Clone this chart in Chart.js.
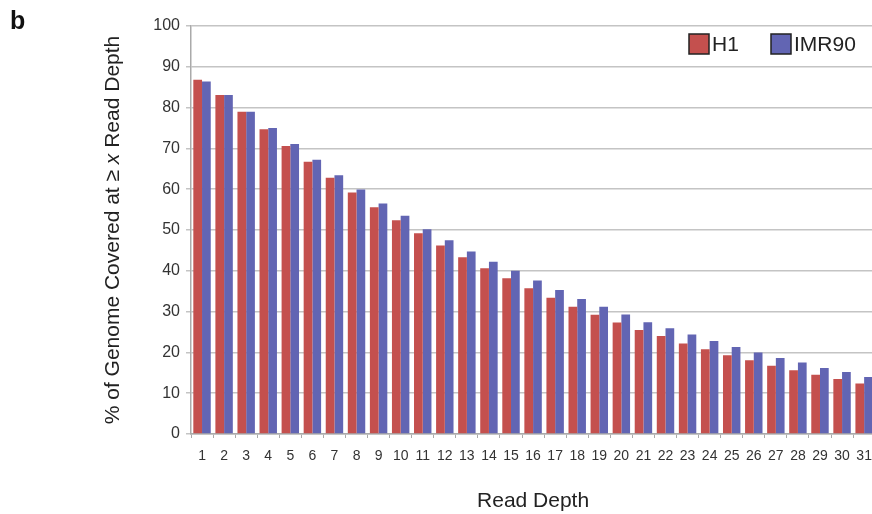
<!DOCTYPE html>
<html>
<head>
<meta charset="utf-8">
<script src="https://cdn.jsdelivr.net/npm/chart.js@4.4.1/dist/chart.umd.min.js"></script>
<style>
  html, body { margin: 0; padding: 0; background: #fff; overflow: hidden; }
  #wrap { position: relative; width: 872px; height: 514px; overflow: hidden; }
  #panel { position: absolute; left: 10px; top: 6px; font: bold 25px "Liberation Sans", Arial, sans-serif; color: #111; }
</style>
</head>
<body>
<div id="wrap">
  <canvas id="coverage-chart" width="882" height="514"></canvas>
  <div id="panel">b</div>
</div>
<script>
// read depth categories (x axis)
const readDepths = ['1', '2', '3', '4', '5', '6', '7', '8', '9', '10',
    '11', '12', '13', '14', '15', '16', '17', '18', '19', '20',
    '21', '22', '23', '24', '25', '26', '27', '28', '29', '30', '31'];

// % of genome covered at >= x read depth
const h1Coverage = [86.8, 83.1, 79.0, 74.7, 70.6, 66.7, 62.8, 59.2, 55.6, 52.4,
    49.2, 46.2, 43.3, 40.6, 38.2, 35.7, 33.4, 31.2, 29.2, 27.3,
    25.5, 24.0, 22.2, 20.8, 19.3, 18.1, 16.7, 15.6, 14.5, 13.5, 12.4];
const imr90Coverage = [86.4, 83.1, 79.0, 75.0, 71.1, 67.2, 63.4, 59.9, 56.5, 53.5,
    50.2, 47.5, 44.7, 42.2, 40.0, 37.6, 35.3, 33.1, 31.2, 29.3,
    27.4, 25.9, 24.4, 22.8, 21.3, 20.0, 18.6, 17.5, 16.2, 15.2, 14.0];

const yMin = 0;
const yMax = 100;
const yStep = 10;

const fontFamily = '"Liberation Sans", Arial, Helvetica, sans-serif';
const textColor = '#222';

// legend sits inside the plot, top right
const insideLegend = {
    id: 'insideLegend',
    afterDraw(chart) {
        const ctx = chart.ctx;
        const spots = [689, 771];
        ctx.save();
        ctx.font = '21px ' + fontFamily;
        ctx.textBaseline = 'middle';
        chart.data.datasets.forEach((ds, i) => {
            const x = spots[i];
            const y = 34;
            ctx.fillStyle = ds.backgroundColor;
            ctx.fillRect(x, y, 20, 20);
            ctx.strokeStyle = '#222';
            ctx.lineWidth = 1.5;
            ctx.strokeRect(x, y, 20, 20);
            ctx.fillStyle = textColor;
            ctx.fillText(ds.label, x + 23, y + 11);
        });
        ctx.restore();
    }
};

// rotated y title with italic x
const yTitle = {
    id: 'yTitle',
    afterDraw(chart) {
        const ctx = chart.ctx;
        const area = chart.chartArea;
        const parts = [
            { t: '% of Genome Covered at \u2265 ', f: '21px ' + fontFamily },
            { t: 'x', f: 'italic 21px ' + fontFamily },
            { t: ' Read Depth', f: '21px ' + fontFamily }
        ];
        ctx.save();
        let total = 0;
        parts.forEach(p => { ctx.font = p.f; p.w = ctx.measureText(p.t).width; total += p.w; });
        ctx.translate(113, (area.top + area.bottom) / 2);
        ctx.rotate(-Math.PI / 2);
        ctx.fillStyle = textColor;
        ctx.textBaseline = 'middle';
        let x = -total / 2;
        parts.forEach(p => { ctx.font = p.f; ctx.fillText(p.t, x, 0); x += p.w; });
        ctx.restore();
    }
};

const coverageChart = new Chart(document.getElementById('coverage-chart').getContext('2d'), {
    type: 'bar',
    data: {
        labels: readDepths,
        datasets: [
            {
                label: 'H1',
                data: h1Coverage,
                backgroundColor: '#c4504e',
                borderWidth: 0,
                categoryPercentage: 0.79,
                barPercentage: 1.0
            },
            {
                label: 'IMR90',
                data: imr90Coverage,
                backgroundColor: '#6265b3',
                borderWidth: 0,
                categoryPercentage: 0.79,
                barPercentage: 1.0
            }
        ]
    },
    options: {
        responsive: false,
        animation: false,
        layout: { padding: { left: 150, top: 26, right: 5, bottom: 0 } },
        plugins: {
            legend: { display: false },
            tooltip: { enabled: false }
        },
        scales: {
            x: {
                offset: true,
                grid: { display: true, drawOnChartArea: false, drawTicks: true, tickLength: 4, offset: true, color: '#aaa' },
                border: { color: '#aaa', width: 1.5 },
                ticks: { color: '#333', font: { family: fontFamily, size: 14 }, padding: 10, maxRotation: 0, autoSkip: false },
                title: { display: true, text: 'Read Depth', color: textColor, font: { family: fontFamily, size: 21 }, padding: 0 },
                afterFit: (s) => { s.height = 80; }
            },
            y: {
                min: yMin,
                max: yMax,
                grid: { color: '#c4c4c4', lineWidth: 1.5, tickLength: 5 },
                border: { color: '#aaa', width: 1.5 },
                ticks: { stepSize: yStep, color: '#333', font: { family: fontFamily, size: 16 }, padding: 6 },
                afterFit: (s) => { s.width = 41; }
            }
        }
    },
    plugins: [insideLegend, yTitle]
});
</script>
</body>
</html>
